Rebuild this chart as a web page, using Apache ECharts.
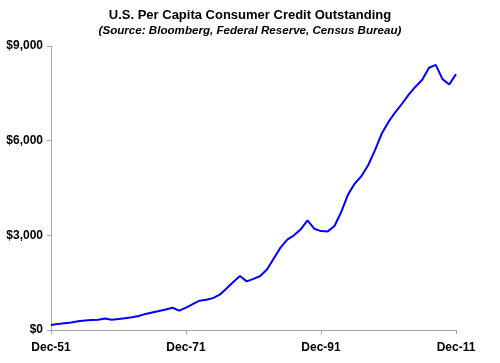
<!DOCTYPE html>
<html>
<head>
<meta charset="utf-8">
<script src="https://cdn.jsdelivr.net/npm/echarts@6/dist/echarts.min.js"></script>
<style>html,body{margin:0;padding:0;background:#fff}#c{width:500px;height:363px}</style>
</head>
<body>
<div id="c"></div>
<script>
var years = [];
for (var y = 1951; y <= 2011; y++) years.push('Dec-' + String(y).slice(2));
var creditPerCapita = [
  158, 190, 215, 240, 280, 300, 315, 325, 365, 328,
  345, 375, 405, 445, 510, 555, 600, 650, 705, 615,
  710, 820, 930, 960, 1010, 1120, 1315, 1520, 1710, 1540,
  1620, 1710, 1920, 2265, 2610, 2865, 3000, 3190, 3475, 3210,
  3135, 3125, 3295, 3740, 4290, 4640, 4880, 5230, 5700, 6225,
  6595, 6900, 7170, 7460, 7710, 7930, 8310, 8400, 7950, 7780, 8110
];
var yTicks = [0, 3000, 6000, 9000];

var chart = echarts.init(document.getElementById('c'));
chart.setOption({
  animation: false,
  backgroundColor: '#fff',
  title: {
    text: 'U.S. Per Capita Consumer Credit Outstanding',
    subtext: '(Source: Bloomberg, Federal Reserve, Census Bureau)',
    left: 245, textAlign: 'center', top: 4, itemGap: 3,
    textStyle: {fontFamily: 'Liberation Sans', fontSize: 13, fontWeight: 'bold', color: '#000'},
    subtextStyle: {fontFamily: 'Liberation Sans', fontSize: 11.6, fontWeight: 'bold', fontStyle: 'italic', color: '#000'}
  },
  grid: {left: 51, right: 44, top: 46, bottom: 33, containLabel: false},
  xAxis: {
    type: 'category', data: years, boundaryGap: false,
    axisLine: {lineStyle: {color: '#a6a6a6', width: 1}},
    axisTick: {show: true, interval: 19, length: 4, lineStyle: {color: '#a6a6a6'}},
    axisLabel: {interval: 19, margin: 12, fontFamily: 'Liberation Sans', fontSize: 12, fontWeight: 'bold', color: '#000'},
    splitLine: {show: false}
  },
  yAxis: {
    type: 'value', min: yTicks[0], max: yTicks[yTicks.length - 1], interval: 3000,
    axisLine: {show: true, lineStyle: {color: '#a6a6a6', width: 1}},
    axisTick: {show: true, length: 4, lineStyle: {color: '#a6a6a6'}},
    axisLabel: {margin: 8, fontFamily: 'Liberation Sans', fontSize: 12, fontWeight: 'bold', color: '#000',
      formatter: function (v) { return '$' + v.toLocaleString('en-US'); }},
    splitLine: {show: false}
  },
  series: [{
    type: 'line', data: creditPerCapita, symbol: 'none',
    lineStyle: {color: '#0000ff', width: 2}
  }]
});
</script>
</body>
</html>
